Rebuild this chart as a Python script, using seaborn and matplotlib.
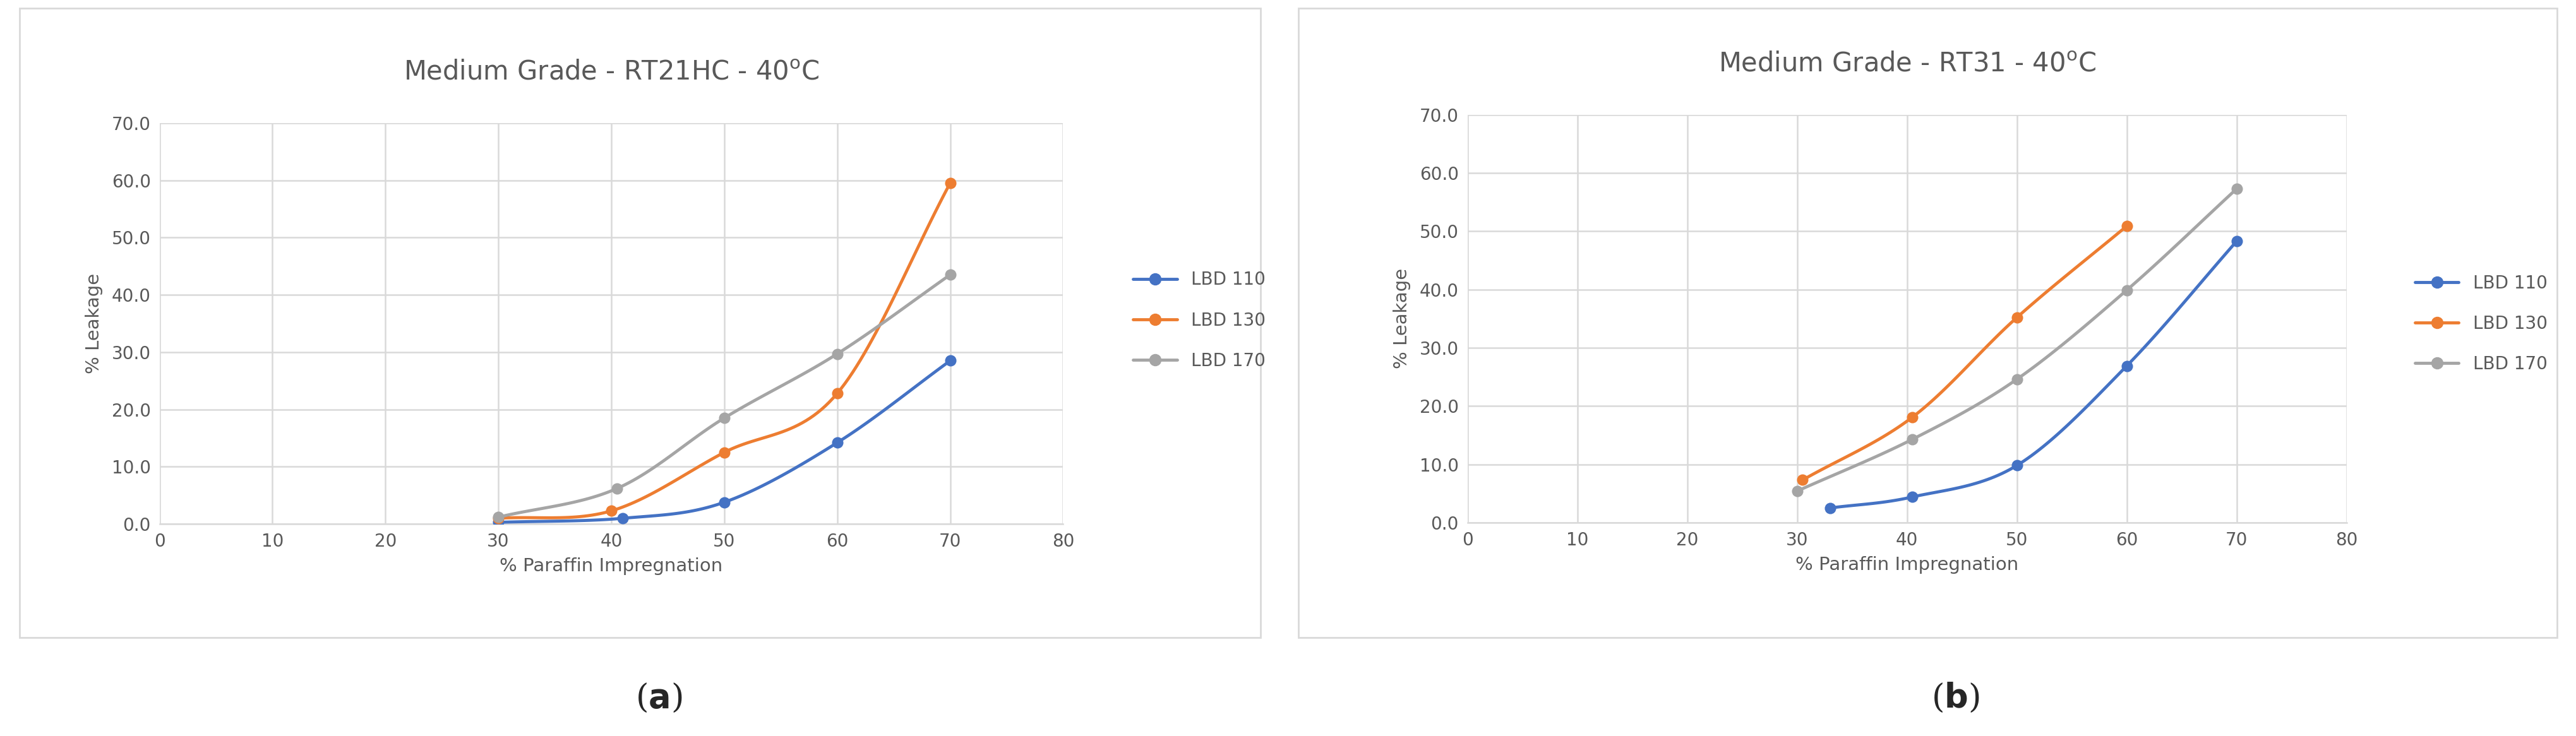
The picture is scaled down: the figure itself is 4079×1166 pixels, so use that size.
import numpy as np
import matplotlib
matplotlib.use("Agg")
import matplotlib.pyplot as plt
import seaborn as sns
from matplotlib.patches import Rectangle

sns.set_theme(style="white")
plt.rcParams['font.family'] = ['DejaVu Sans']
plt.rcParams['mathtext.default'] = 'regular'

series_names = ["LBD 110", "LBD 130", "LBD 170"]
colors = ["#4472C4", "#ED7D31", "#A5A5A5"]

a_x = [[30, 41, 50, 60, 70], [30, 40, 50, 60, 70], [30, 40.5, 50, 60, 70]]
a_y = [[0.3, 1.0, 3.8, 14.2, 28.5], [1.0, 2.3, 12.5, 22.8, 59.5], [1.2, 6.2, 18.5, 29.7, 43.5]]
b_x = [[33, 40.5, 50, 60, 70], [30.5, 40.5, 50, 60], [30, 40.5, 50, 60, 70]]
b_y = [[2.5, 4.4, 9.8, 26.9, 48.3], [7.3, 18.1, 35.2, 50.9], [5.4, 14.3, 24.6, 39.9, 57.3]]
titles = ["Medium Grade - RT21HC - 40$^{o}$C", "Medium Grade - RT31 - 40$^{o}$C"]
xticks = [0, 10, 20, 30, 40, 50, 60, 70, 80]
yticks = [0, 10, 20, 30, 40, 50, 60, 70]


def catmull(x, y, n=30):
    x = np.asarray(x, float); y = np.asarray(y, float)
    px = np.concatenate([[2*x[0]-x[1]], x, [2*x[-1]-x[-2]]])
    py = np.concatenate([[2*y[0]-y[1]], y, [2*y[-1]-y[-2]]])
    ox, oy = [], []
    for i in range(1, len(px)-2):
        t = np.linspace(0, 1, n)
        for p, o in ((px, ox), (py, oy)):
            p0, p1, p2, p3 = p[i-1], p[i], p[i+1], p[i+2]
            o.extend(0.5*((2*p1) + (-p0+p2)*t + (2*p0-5*p1+4*p2-p3)*t**2 + (-p0+3*p1-3*p2+p3)*t**3))
    return np.array(ox), np.array(oy)


fig = plt.figure(figsize=(40.8, 11.66), dpi=100)
for x0, w in [(12/1568, 755/1568), (790/1568, 766/1568)]:
    fig.patches.append(Rectangle((x0, 1-388/448), w, 383/448, transform=fig.transFigure,
                                 fill=False, edgecolor="#D9D9D9", lw=2))

axes_pos = [[0.0619, 0.288, 0.3507, 0.545], [0.5695, 0.290, 0.3412, 0.554]]
legend_pos = [(680/1568, 1-195/448), (1460/1568, 1-197/448)]
data = [(a_x, a_y), (b_x, b_y)]
for k in range(2):
    ax = fig.add_axes(axes_pos[k])
    xs, ys = data[k]
    handles = []
    for i in range(3):
        cx, cy = catmull(xs[i], ys[i])
        ax.plot(cx, cy, color=colors[i], lw=3.5, zorder=3)
        sns.lineplot(x=xs[i], y=ys[i], ax=ax, color=colors[i], lw=0, marker="o",
                     markersize=13, markeredgewidth=0, zorder=4)
        handles.append(plt.Line2D([], [], color=colors[i], lw=3.5, marker="o", markersize=13))
    ax.set_xlim(0, 80); ax.set_ylim(0, 70)
    ax.set_xticks(xticks); ax.set_yticks(yticks)
    ax.set_yticklabels([f"{v:.1f}" for v in yticks])
    ax.grid(True, color="#D9D9D9", lw=1.8)
    for s in ["top", "right", "left"]:
        ax.spines[s].set_visible(False)
    ax.spines["bottom"].set_color("#D9D9D9"); ax.spines["bottom"].set_linewidth(1.8)
    ax.tick_params(labelsize=20, colors="#595959", length=0, pad=10)
    ax.set_xlabel("% Paraffin Impregnation", fontsize=21, color="#595959", labelpad=8)
    ax.set_ylabel("% Leakage", fontsize=21, color="#595959", labelpad=10)
    ax.set_title(titles[k], fontsize=30, color="#595959", pad=50)
    fig.legend(handles, series_names, loc="center left", bbox_to_anchor=legend_pos[k],
               frameon=False, fontsize=20, labelcolor="#595959", handlelength=2.5,
               labelspacing=1.3)

for cx, letter in [(401/1568, "a"), (1190/1568, "b")]:
    fig.text(cx, 1-425/448, r"($\mathbf{" + letter + r"}$)", fontsize=38, family="DejaVu Serif",
             ha="center", va="center")

fig.savefig("out.png", dpi=100, facecolor="white")
